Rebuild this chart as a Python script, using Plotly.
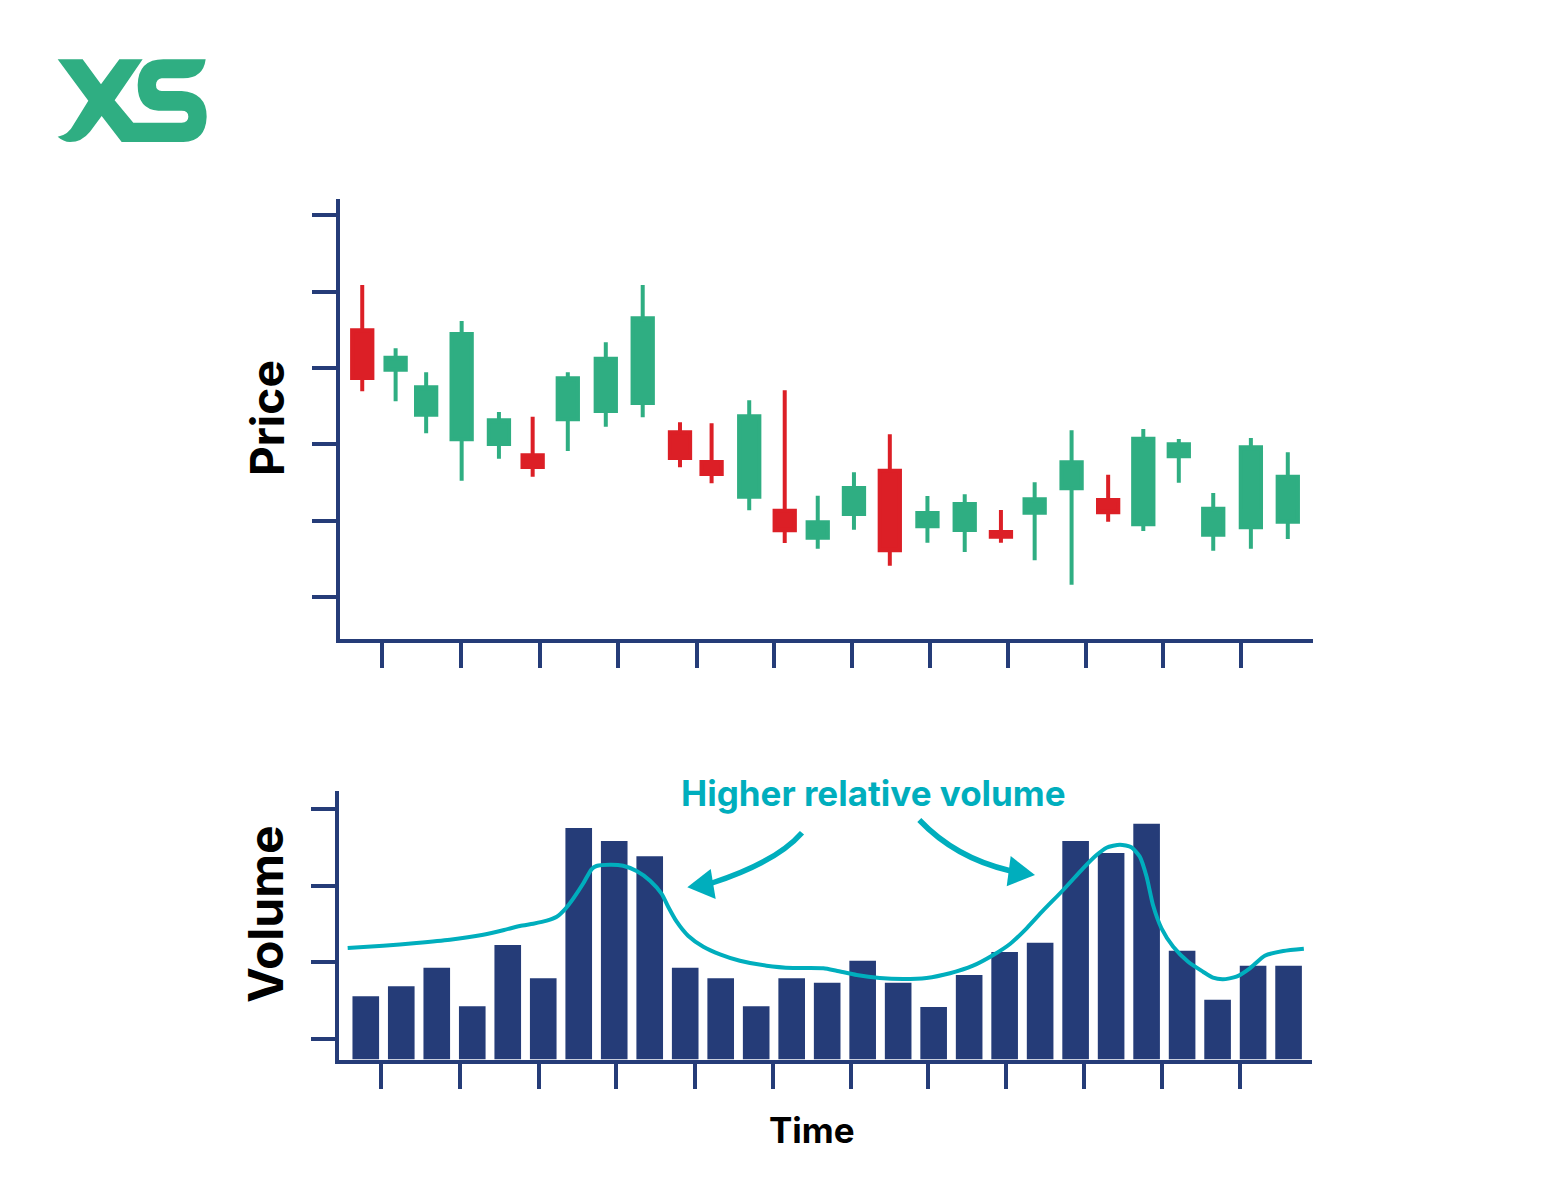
import plotly.graph_objects as go

# ---- Data (arbitrary price / volume units; the chart has no numeric labels) ----
candle_time = [0.90, 1.84, 2.70, 3.70, 4.75, 5.70, 6.69, 7.76, 8.80, 9.85, 10.74, 11.80, 12.80, 13.73,
               14.75, 15.76, 16.82, 17.87, 18.89, 19.84, 20.88, 21.91, 22.90, 23.90, 24.87, 25.93, 26.97]
candle_open = [309.7, 270.3, 225.3, 200.7, 196.0, 184.7, 220.7, 229.0, 237.0, 207.7, 178.0, 143.3, 129.3, 102.3,
               126.0, 169.3, 113.7, 110.0, 108.0, 127.3, 151.7, 140.0, 115.7, 183.7, 105.3, 112.7, 118.3]
candle_close = [262.0, 282.3, 252.7, 306.0, 219.7, 173.0, 261.7, 281.3, 321.7, 182.0, 166.0, 223.7, 109.7, 117.7,
                152.0, 89.7, 127.0, 136.0, 103.3, 140.7, 177.7, 127.7, 201.3, 195.7, 131.3, 192.7, 163.3]
candle_high = [355.0, 291.7, 267.7, 319.0, 228.0, 223.3, 267.7, 297.7, 355.0, 217.7, 216.7, 239.7, 249.7, 144.3,
               167.7, 205.7, 144.0, 145.7, 130.0, 157.7, 209.7, 165.3, 211.0, 201.0, 147.0, 202.0, 187.7]
candle_low = [248.7, 238.7, 206.7, 159.3, 181.3, 163.3, 189.0, 213.3, 222.7, 172.7, 156.7, 129.7, 97.0, 91.3,
              110.3, 74.3, 97.3, 88.0, 97.3, 79.7, 55.3, 118.3, 109.0, 157.3, 89.3, 91.3, 101.0]

volume_time = list(range(1, 28))
volume = [63.2, 73.2, 91.8, 53.2, 114.5, 81.2, 231.5, 218.5, 203.2, 91.8, 81.2, 53.2, 81.2, 76.8,
          98.8, 76.8, 52.5, 84.5, 107.5, 116.8, 218.5, 206.5, 235.8, 108.8, 59.8, 93.8, 93.8]

rel_time = [0.49, 1.49, 2.43, 3.37, 4.31, 4.87, 5.34, 5.72, 6.10, 6.38, 6.61, 6.85, 7.13, 7.36, 7.50, 7.88,
            8.25, 8.63, 9.01, 9.34, 9.52, 9.76, 10.08, 10.51, 10.98, 11.54, 12.29, 13.04, 13.89, 14.26,
            14.83, 15.48, 16.14, 16.80, 17.46, 18.11, 18.68, 19.15, 19.62, 20.08, 20.65, 21.21, 21.59,
            21.87, 22.25, 22.57, 22.81, 23.00, 23.18, 23.42, 23.75, 24.17, 24.59, 24.87, 25.15, 25.53,
            25.91, 26.33, 26.85, 27.43]
rel_volume = [111.5, 113.8, 116.5, 119.8, 124.8, 129.2, 133.5, 135.8, 138.8, 142.8, 150.2, 161.2, 176.2, 190.2,
              193.5, 194.8, 193.8, 188.5, 178.8, 165.5, 152.8, 137.8, 123.8, 112.8, 105.2, 98.8, 93.8, 91.5,
              91.2, 88.8, 84.5, 81.5, 80.5, 81.5, 86.2, 93.8, 104.5, 115.5, 131.2, 148.8, 169.5, 191.2, 204.5,
              211.8, 214.8, 212.2, 202.8, 182.8, 154.5, 131.2, 112.8, 97.8, 87.8, 81.8, 80.2, 82.8, 91.2,
              103.8, 108.5, 110.8]

price_ticks = [43, 119.3, 195.7, 272, 348.3, 425]
price_time_ticks = [1.45, 3.68, 5.91, 8.10, 10.32, 12.50, 14.70, 16.89, 19.09, 21.29, 23.46, 25.66]
volume_ticks = [20.8, 97.5, 173.8, 250.2]
volume_time_ticks = [1.42, 3.65, 5.88, 8.05, 10.28, 12.48, 14.67, 16.85, 19.05, 21.24, 23.44, 25.62]

# ---- Style ----
W, H = 1560, 1199
NAVY, GREEN, RED, TEAL = "#253C78", "#2FAE82", "#DC1F26", "#00AEBD"
FONT = "Inter"


def fx(px):
    return px / W


def fy(py):
    return 1 - py / H


def path(cmds):
    """Build a paper-coordinate SVG path from pixel-style drawing commands."""
    out = []
    for c in cmds:
        if c == "Z":
            out.append("Z")
        else:
            pts = " ".join(f"{fx(x):.5f},{fy(y):.5f}" for x, y in c[1:])
            out.append(c[0] + " " + pts)
    return " ".join(out)


def logo(x, y):
    return (40 + x / 3, 40 + y / 3)


logo_cmds = [
    ("M", logo(53, 58)), ("L", logo(128, 58)), ("L", logo(183, 133)), ("L", logo(238, 58)), ("L", logo(308, 58)),
    ("L", logo(224, 181)), ("L", logo(280, 248)), ("L", logo(425, 248)),
    ("Q", logo(445, 246), logo(445, 230)), ("Q", logo(445, 212), logo(425, 212)), ("L", logo(355, 212)),
    ("Q", logo(293, 208), logo(293, 135)), ("Q", logo(295, 58), logo(370, 58)), ("L", logo(497, 58)),
    ("Q", logo(490, 115), logo(430, 115)), ("L", logo(365, 115)), ("Q", logo(348, 118), logo(348, 135)),
    ("Q", logo(348, 152), logo(365, 153)), ("L", logo(425, 153)), ("Q", logo(500, 158), logo(500, 230)),
    ("Q", logo(497, 304), logo(430, 306)), ("L", logo(245, 306)), ("L", logo(185, 228)), ("L", logo(150, 275)),
    ("Q", logo(125, 306), logo(90, 306)), ("Q", logo(70, 305), logo(53, 290)), ("Q", logo(85, 285), logo(100, 255)),
    ("L", logo(145, 182)), "Z",
]

shapes = [
    dict(type="path", xref="paper", yref="paper", path=path(logo_cmds), fillcolor=GREEN, line=dict(width=0)),
    dict(type="path", xref="paper", yref="paper", line=dict(color=TEAL, width=5.5),
         path=path([("M", (802, 832.7)), ("Q", (776.4, 862), (712, 883))])),
    dict(type="path", xref="paper", yref="paper", fillcolor=TEAL, line=dict(width=0),
         path=path([("M", (687.3, 887.3)), ("L", (710.7, 869)), ("L", (715.7, 899)), "Z"])),
    dict(type="path", xref="paper", yref="paper", line=dict(color=TEAL, width=5.5),
         path=path([("M", (919.3, 820)), ("Q", (955.4, 858), (1010, 870.7))])),
    dict(type="path", xref="paper", yref="paper", fillcolor=TEAL, line=dict(width=0),
         path=path([("M", (1035, 875)), ("L", (1010.7, 856)), ("L", (1006.7, 886.3)), "Z"])),
]


def label(text, x, y, size, color="#000000", angle=0):
    return dict(text=f"<b>{text}</b>", x=fx(x), y=fy(y), xref="paper", yref="paper", showarrow=False,
                xanchor="center", yanchor="middle", textangle=angle,
                font=dict(family=FONT, size=size, color=color))


annotations = [
    label("Price", 267, 418, 46, angle=-90),
    label("Volume", 265, 914, 48, angle=-90),
    label("Time", 812, 1130, 35),
    label("Higher relative volume", 873, 793, 35, color=TEAL),
]

fig = go.Figure()
fig.add_trace(go.Candlestick(
    x=candle_time, open=candle_open, high=candle_high, low=candle_low, close=candle_close,
    xaxis="x", yaxis="y", whiskerwidth=0,
    increasing=dict(line=dict(color=GREEN, width=4), fillcolor=GREEN),
    decreasing=dict(line=dict(color=RED, width=4), fillcolor=RED),
))
fig.add_trace(go.Bar(x=volume_time, y=volume, xaxis="x2", yaxis="y2", marker=dict(color=NAVY, line=dict(width=0))))
fig.add_trace(go.Scatter(x=rel_time, y=rel_volume, xaxis="x2", yaxis="y2", mode="lines",
                         line=dict(color=TEAL, width=4, shape="spline", smoothing=0.6)))


def x_axis(rng, ticks, left, right, anchor, lw):
    return dict(domain=[fx(left), fx(right)], range=rng, anchor=anchor, showgrid=False, zeroline=False,
                showline=True, linecolor=NAVY, linewidth=lw, ticks="outside", ticklen=25, tickwidth=4,
                tickcolor=NAVY, tickvals=ticks, showticklabels=False, rangeslider=dict(visible=False))


def y_axis(rng, ticks, top, bottom, anchor, lw, ticklen):
    return dict(domain=[fy(bottom), fy(top)], range=rng, anchor=anchor, showgrid=False, zeroline=False,
                showline=True, linecolor=NAVY, linewidth=lw, ticks="outside", ticklen=ticklen, tickwidth=4,
                tickcolor=NAVY, tickvals=ticks, showticklabels=False)


fig.update_layout(
    width=W, height=H, margin=dict(l=0, r=0, t=0, b=0), autosize=False,
    paper_bgcolor="#FFFFFF", plot_bgcolor="#FFFFFF", showlegend=False, bargap=0.25, boxgap=0.05,
    xaxis=x_axis([0.265, 27.68], price_time_ticks, 339.7, 1313, "y", 4),
    yaxis=y_axis([1.3, 440.7], price_ticks, 199.3, 638.7, "x", 4, 23.5),
    xaxis2=x_axis([0.237, 27.66], volume_time_ticks, 338.7, 1312, "y2", 4),
    yaxis2=y_axis([0, 268.8], volume_ticks, 790.7, 1059.5, "x2", 4, 24),
    shapes=shapes, annotations=annotations,
)
fig.write_html("out.html", config={"displayModeBar": False},
               post_script="document.body.style.margin='0';")
